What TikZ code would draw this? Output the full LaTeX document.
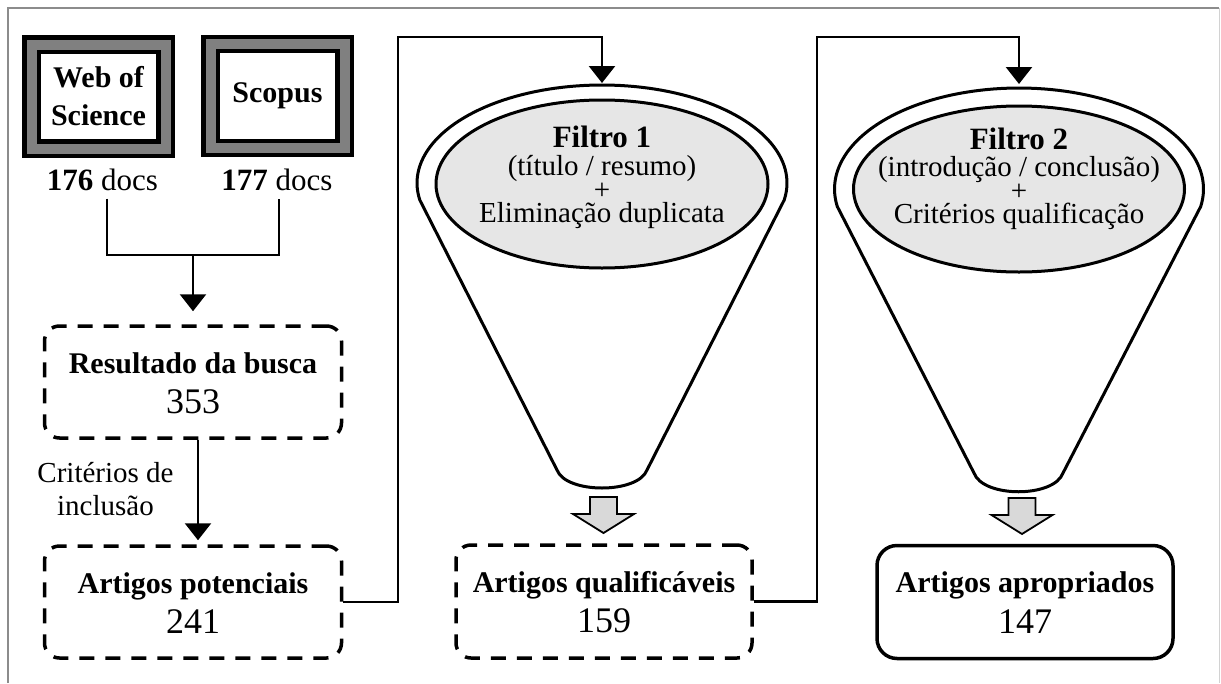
\documentclass[tikz,border=0pt]{standalone}
\usepackage{fontspec}
\setmainfont{Liberation Serif}
\usetikzlibrary{arrows.meta}
\definecolor{bandgray}{RGB}{128,128,128}
\definecolor{ellfill}{RGB}{230,230,230}
\definecolor{arrfill}{RGB}{217,217,217}
\definecolor{framegray}{RGB}{140,140,140}
\begin{document}
\begin{tikzpicture}[x=1pt,y=-1pt,
  conn/.style={line width=2.5pt},
  arr/.style={conn,-{Triangle[width=26pt,length=17pt]}},
  srcbox/.style={draw=black,line width=4.3pt,double=bandgray,double distance=10pt,fill=white,
    minimum width=134pt,minimum height=104pt,inner sep=0pt,align=center,
    font=\fontsize{30}{38}\selectfont\bfseries},
  dbox/.style={draw,line width=3.5pt,rounded corners=15pt,dash pattern=on 15pt off 11pt,
    minimum width=297pt,minimum height=112pt,inner sep=0pt},
  sbox/.style={draw,line width=3.5pt,rounded corners=20pt,minimum width=296pt,minimum height=113pt,inner sep=0pt},
  lbl/.style={anchor=base,inner sep=0pt,font=\fontsize{30}{36}\selectfont\bfseries},
  num/.style={anchor=base,inner sep=0pt,font=\fontsize{36}{40}\selectfont},
  txt/.style={anchor=base,inner sep=0pt,font=\fontsize{29}{33}\selectfont},
  doc/.style={anchor=base,inner sep=0pt,font=\fontsize{31}{36}\selectfont},
  funnel/.style={draw,line width=3pt,fill=white,line join=round},
  inell/.style={draw,line width=3pt,fill=ellfill},
  blockdown/.pic={\draw[line width=1.8pt,fill=arrfill,line join=miter]
    (-13.5,0) -- (13.5,0) -- (13.5,17) -- (30.5,17) -- (0,36) -- (-30.5,17) -- (-13.5,17) -- cycle;}
]
\useasboundingbox (0,0) rectangle (1221,683);
% frame
\draw[framegray,line width=1.5pt] (8,683) -- (8,8) -- (1219,8);
\draw[gray!35,line width=1pt] (1219,8) -- (1219,683);

% sources
\node[srcbox] (wos) at (98.5,96.5) {Web of\\Science};
\node[srcbox] (sco) at (277.5,96) {Scopus};
\node[doc] (wosn) at (102.5,190) {\textbf{176} docs};
\node[doc] (scon) at (277,190) {\textbf{177} docs};

\coordinate (jn) at (193,255);
\draw[conn] ([xshift=4.5pt,yshift=-8pt]wosn.south) |- (jn) -| ([xshift=2pt,yshift=-8pt]scon.south);

% left column
\node[dbox] (res) at (193,382) {};
\node[lbl] (res1) at (193,373) {Resultado da busca};
\node[num] (res2) at (193,413) {353};
\draw[arr,shorten >=13pt] (jn) -- (jn |- res.north);

\node[dbox] (pot) at (193,602) {};
\node[lbl] (pot1) at (193,593) {Artigos potenciais};
\node[num] (pot2) at (193,633) {241};
\draw[arr,shorten >=4pt] ([xshift=5pt]res.south) -- ([xshift=5pt]pot.north);
\node[anchor=base,inner sep=0pt,font=\fontsize{29}{33}\selectfont] (crit) at (105.5,482)
  {\begin{tabular}[t]{@{}c@{}}Critérios de\\inclusão\end{tabular}};

% funnel 1
\coordinate (f1top) at (602,83);
\draw[funnel] plot[domain=170:370,samples=90] ({602+185*cos(\x)},{183+98*sin(\x)})
  -- (647,470) .. controls (638,494) and (566,494) .. (557,470) -- cycle;
\draw[inell] (602,184) ellipse [x radius=166pt, y radius=84pt];
\node[lbl,font=\fontsize{31}{36}\selectfont\bfseries] (f1a) at (602,147) {Filtro 1};
\node[txt] (f1b) at (602,175) {(título / resumo)};
\node[txt] (f1c) at (602,199) {+};
\node[txt] (f1d) at (602,222) {Eliminação duplicata};
\pic at (603.5,497) {blockdown};

\node[dbox,minimum width=296pt,minimum height=113pt] (qua) at (604,601.5) {};
\node[lbl] (qua1) at (604,592) {Artigos qualificáveis};
\node[num] (qua2) at (604,632) {159};

\draw[arr] (pot.east) -| (398,37) -| (f1top);

% funnel 2
\coordinate (f2top) at (1019,84);
\draw[funnel] plot[domain=170:370,samples=90] ({1019+184.5*cos(\x)},{189+101*sin(\x)})
  -- (1063,473) .. controls (1054,498) and (983,498) .. (974,473) -- cycle;
\draw[inell] (1019,189) ellipse [x radius=165.5pt, y radius=83pt];
\node[lbl,font=\fontsize{31}{36}\selectfont\bfseries] (f2a) at (1019,149) {Filtro 2};
\node[txt] (f2b) at (1019,176) {(introdução / conclusão)};
\node[txt] (f2c) at (1019,200) {+};
\node[txt] (f2d) at (1019,223) {Critérios qualificação};
\pic at (1022,498) {blockdown};

\node[sbox] (apr) at (1025,602) {};
\node[lbl] (apr1) at (1025,592) {Artigos apropriados};
\node[num] (apr2) at (1025,633) {147};

\draw[arr] (qua.east) -| (817,37) -| (f2top);
\end{tikzpicture}
\end{document}
